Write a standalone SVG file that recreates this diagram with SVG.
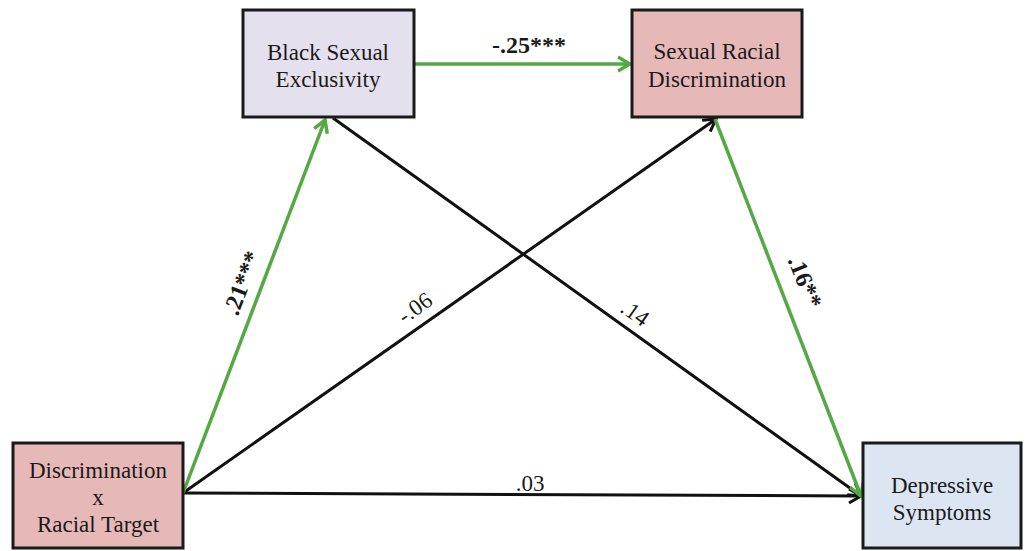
<svg xmlns="http://www.w3.org/2000/svg" width="1026" height="551" viewBox="0 0 1026 551">
<style>
.box{stroke:#1a1a1a;stroke-width:3}
text{font-family:'Liberation Serif','DejaVu Serif',serif;font-size:23px;fill:#1a1a1a;text-anchor:middle}
.l{font-size:23px}
.b{font-weight:bold;font-size:24px}
.g{stroke:#55a944;stroke-width:3.5;fill:none}
.k{stroke:#111;stroke-width:3;fill:none}
</style>
<defs>
<marker id="ag" markerUnits="userSpaceOnUse" viewBox="0 0 16 18" refX="14" refY="9" markerWidth="16" markerHeight="18" orient="auto"><path d="M2,2 L14,9 L2,16" fill="none" stroke="#55a944" stroke-width="3.5"/></marker>
<marker id="ak" markerUnits="userSpaceOnUse" viewBox="0 0 16 18" refX="14" refY="9" markerWidth="16" markerHeight="18" orient="auto"><path d="M2,2 L14,9 L2,16" fill="none" stroke="#111" stroke-width="3"/></marker>
</defs>
<rect width="1026" height="551" fill="#fff"/>
<g id="connectors">
<line class="k" x1="333" y1="118" x2="861" y2="496" marker-end="url(#ak)"/>
<line class="k" x1="183" y1="493" x2="716" y2="119" marker-end="url(#ak)"/>
<line class="k" x1="183" y1="493" x2="861" y2="496" marker-end="url(#ak)"/>
<line class="g" x1="414" y1="64" x2="630" y2="64" marker-end="url(#ag)"/>
<line class="g" x1="183" y1="493" x2="325" y2="120" marker-end="url(#ag)"/>
<line class="g" x1="715" y1="119" x2="861" y2="496" marker-end="url(#ag)"/>
<text class="b" x="529" y="53">-.25***</text>
<text class="b" x="242" y="283" dominant-baseline="central" transform="rotate(-69 242 283)">.21***</text>
<text class="l" x="415" y="308" dominant-baseline="central" transform="rotate(-35 415 308)">-.06</text>
<text class="l" x="635" y="313" dominant-baseline="central" transform="rotate(35 635 313)">.14</text>
<text class="b" x="805" y="282" dominant-baseline="central" transform="rotate(68 805 282)">.16**</text>
<text class="l" x="530" y="491">.03</text>
</g>
<g id="node-bse">
<rect class="box" x="243" y="10" width="171" height="107" fill="#e5e0ee"/>
<text x="328" y="60">Black Sexual</text>
<text x="328" y="87">Exclusivity</text>
</g>
<g id="node-srd">
<rect class="box" x="632" y="10" width="170" height="107" fill="#e6b8b7"/>
<text x="717" y="59">Sexual Racial</text>
<text x="717" y="87">Discrimination</text>
</g>
<g id="node-dxr">
<rect class="box" x="13" y="443" width="170" height="105" fill="#e6b8b7"/>
<text x="98" y="478">Discrimination</text>
<text x="98" y="505">x</text>
<text x="98" y="532">Racial Target</text>
</g>
<g id="node-dep">
<rect class="box" x="863" y="443" width="158" height="105" fill="#dce6f2"/>
<text x="942" y="493">Depressive</text>
<text x="942" y="520">Symptoms</text>
</g>
</svg>
